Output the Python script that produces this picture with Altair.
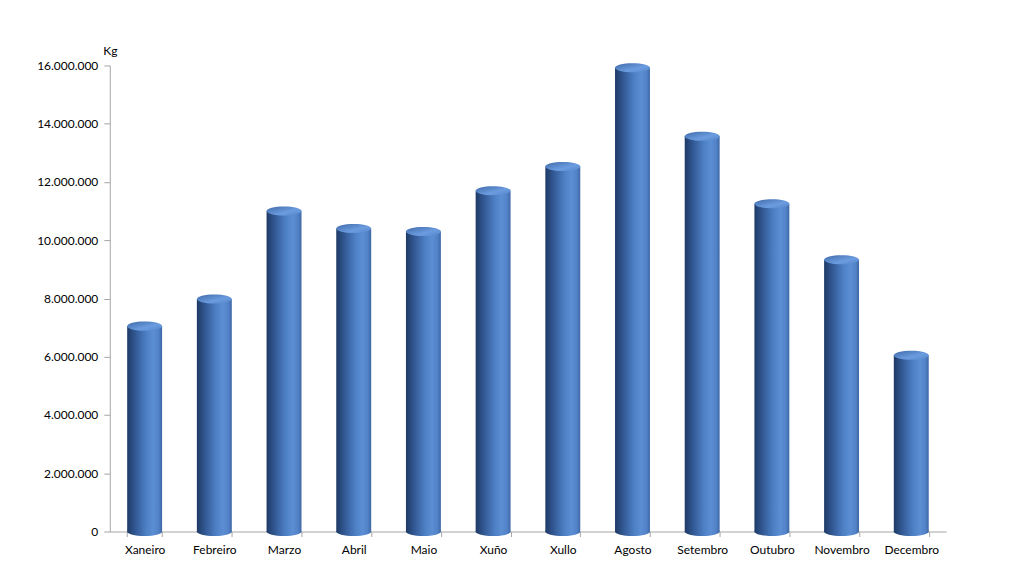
import altair as alt
import pandas as pd

months = ["Xaneiro", "Febreiro", "Marzo", "Abril", "Maio", "Xuño", "Xullo",
          "Agosto", "Setembro", "Outubro", "Novembro", "Decembro"]
values = [7050000, 7980000, 11000000, 10400000, 10300000, 11700000, 12530000,
          15920000, 13570000, 11250000, 9330000, 6050000]

df = pd.DataFrame({"mes": months, "kg": values})
df["zero"] = 0

FONT = "Lato"
FS = 12

side_grad = alt.Gradient(
    gradient="linear", x1=0, x2=1, y1=0, y2=0,
    stops=[
        alt.GradientStop(offset=0.0, color="#1e3a66"),
        alt.GradientStop(offset=0.25, color="#335a96"),
        alt.GradientStop(offset=0.55, color="#4e80c5"),
        alt.GradientStop(offset=0.75, color="#5c8ed4"),
        alt.GradientStop(offset=0.9, color="#5282c8"),
        alt.GradientStop(offset=1.0, color="#3e68a6"),
    ],
)
top_grad = alt.Gradient(
    gradient="linear", x1=0, x2=1, y1=0, y2=1,
    stops=[
        alt.GradientStop(offset=0.0, color="#3e6aa8"),
        alt.GradientStop(offset=0.6, color="#6c9ce0"),
        alt.GradientStop(offset=1.0, color="#5585c8"),
    ],
)

ellipse = "M-1,0 A1,0.26 0 1,1 1,0 A1,0.26 0 1,1 -1,0 Z"

x_enc = alt.X(
    "mes:N", sort=months, title=None,
    scale=alt.Scale(paddingInner=0.5, paddingOuter=0.25),
    axis=alt.Axis(
        labelAngle=0, tickBand="extent", domainColor="#a6a6a6", tickColor="#a6a6a6",
        tickSize=5, labelFont=FONT, labelFontSize=FS, labelColor="#000000",
        labelPadding=8,
    ),
)
y_enc = alt.Y(
    "kg:Q", title="Kg",
    scale=alt.Scale(domain=[0, 16000000], nice=False),
    axis=alt.Axis(
        values=[0, 2000000, 4000000, 6000000, 8000000, 10000000, 12000000, 14000000, 16000000],
        labelExpr="replace(replace(format(datum.value, ',d'), ',', '.'), ',', '.')",
        grid=False, domainColor="#a6a6a6", tickColor="#a6a6a6", tickSize=6,
        labelFont=FONT, labelFontSize=FS, labelColor="#000000", labelPadding=6,
        titleAngle=0, titleX=0, titleY=-8, titleAlign="center", titleBaseline="bottom",
        titleFont=FONT, titleFontSize=FS, titleFontWeight="normal", titleColor="#000000",
    ),
)

base = alt.Chart(df)

bottom = base.mark_point(shape=ellipse, filled=True, fill=side_grad, size=1225,
                         opacity=1, strokeWidth=0).encode(
    x=x_enc, y=alt.Y("zero:Q", scale=alt.Scale(domain=[0, 16000000], nice=False))
)
bars = base.mark_bar(size=35, color=side_grad).encode(x=x_enc, y=y_enc)
tops = base.mark_point(shape=ellipse, filled=True, fill=top_grad, size=1225,
                       opacity=1, strokeWidth=0).encode(x=x_enc, y="kg:Q")

chart = alt.layer(bottom, bars, tops).properties(
    width=838, height=467,
    autosize=alt.AutoSizeParams(type="none"),
    padding={"left": 102, "top": 57, "right": 56, "bottom": 45},
).configure_view(stroke=None)

chart.save("out.html", embed_options={"renderer": "svg", "actions": False})
